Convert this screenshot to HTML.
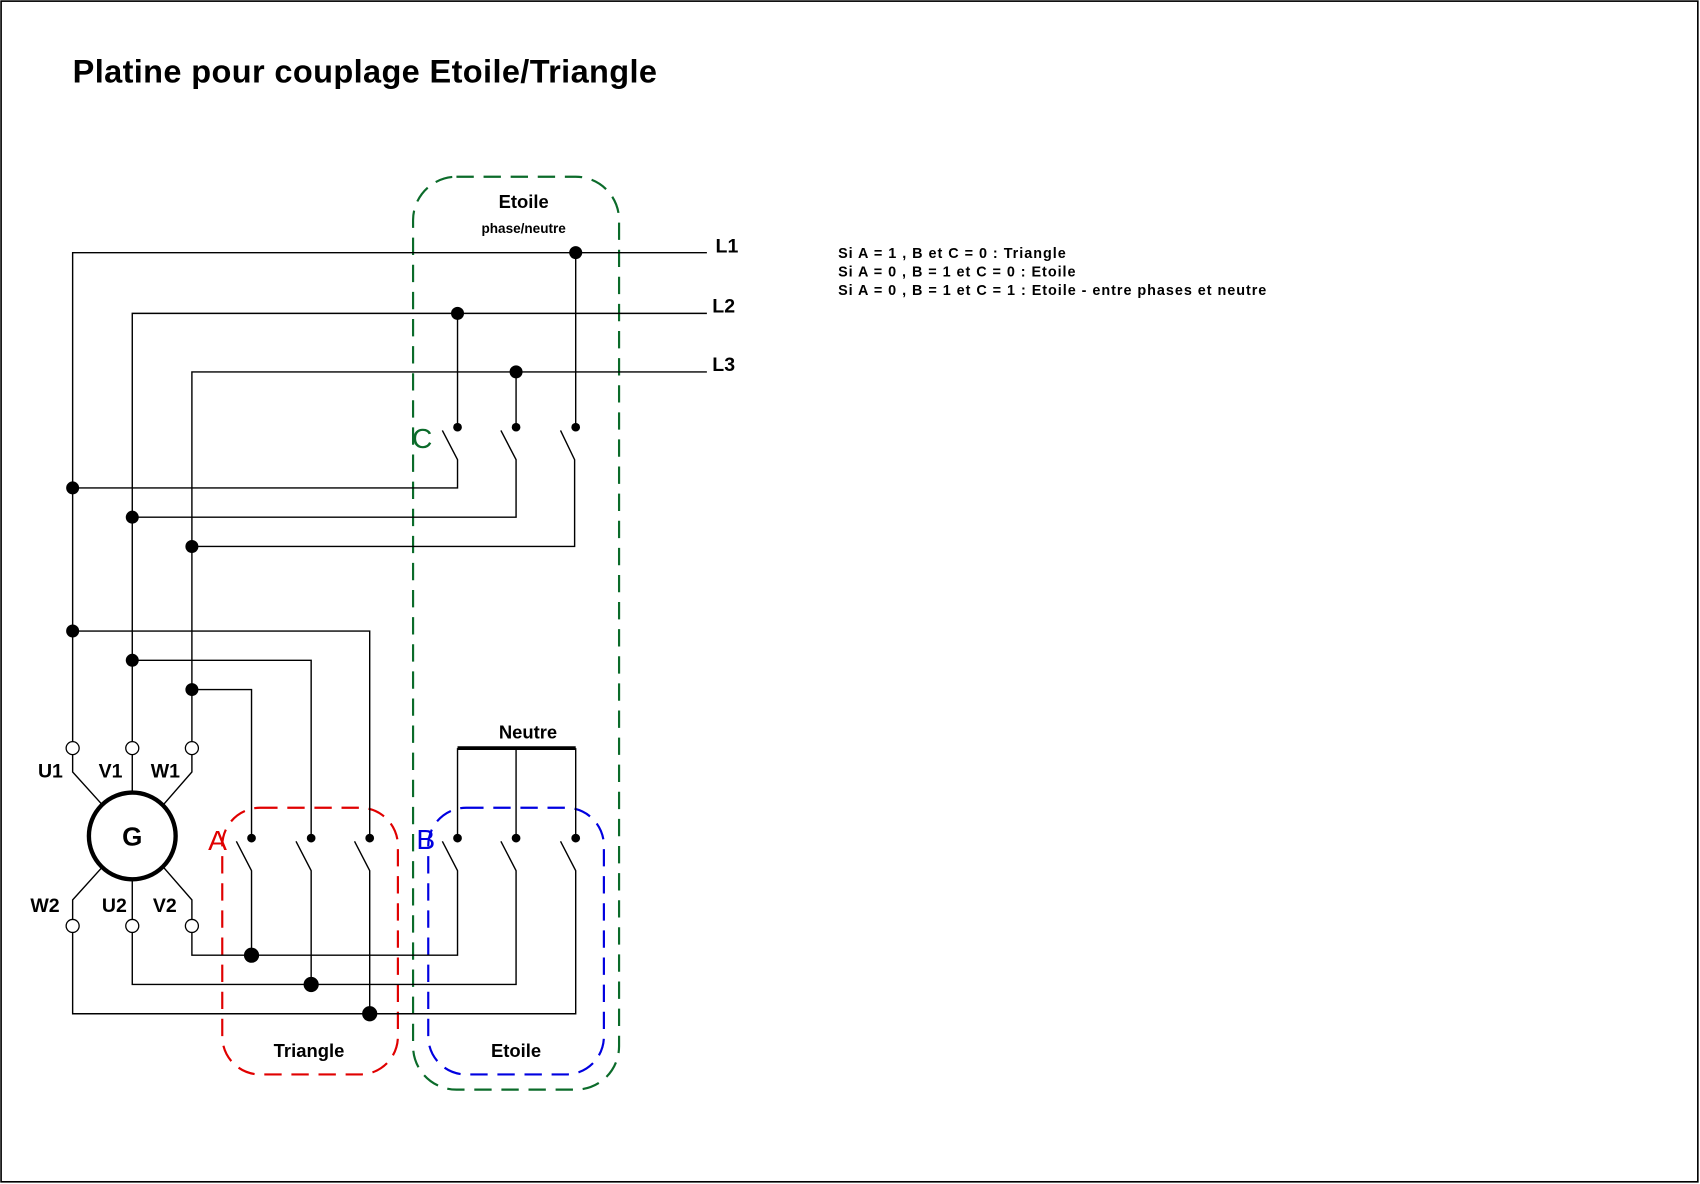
<!DOCTYPE html>
<html><head><meta charset="utf-8"><style>
html,body{margin:0;padding:0;background:#fff;}
svg{display:block;}
text{font-family:"Liberation Sans",Arial,sans-serif;}
</style></head><body>
<svg width="1700" height="1184" viewBox="0 0 1568 1092" xmlns="http://www.w3.org/2000/svg">
<rect x="1" y="1" width="1565" height="1089" fill="#fff" stroke="#000" stroke-width="1.5"/>
<text x="67" y="76" font-size="30" font-weight="bold" textLength="539">Platine pour couplage Etoile/Triangle</text>

<g fill="none" stroke-width="2" stroke-dasharray="16,9">
<rect x="381" y="163" width="190" height="842" rx="40" stroke="#0b6b2a"/>
<rect x="205" y="745" width="162" height="246" rx="35" stroke="#e00000"/>
<rect x="395" y="745" width="162" height="246" rx="35" stroke="#0000e0"/>
</g>

<g stroke="#000" stroke-width="1.3" fill="none">
<polyline points="67,690 67,233 652,233"/>
<polyline points="122,690 122,289 652,289"/>
<polyline points="177,690 177,343 652,343"/>
<line x1="422" y1="289" x2="422" y2="394"/>
<line x1="476" y1="343" x2="476" y2="394"/>
<line x1="531" y1="233" x2="531" y2="394"/>
<polyline points="408,397 422,424 422,450 67,450"/>
<polyline points="462,397 476,424 476,477 122,477"/>
<polyline points="517,397 530,424 530,504 177,504"/>
<polyline points="67,582 341,582 341,773"/>
<polyline points="122,609 287,609 287,773"/>
<polyline points="177,636 232,636 232,773"/>
<polyline points="218,776 232,803 232,881"/>
<polyline points="273,776 287,803 287,908"/>
<polyline points="327,776 341,803 341,935"/>
<line x1="422" y1="690" x2="422" y2="773"/>
<line x1="476" y1="690" x2="476" y2="773"/>
<line x1="531" y1="690" x2="531" y2="773"/>
<polyline points="408,776 422,803 422,881 177,881 177,860"/>
<polyline points="462,776 476,803 476,908 122,908 122,860"/>
<polyline points="517,776 531,803 531,935 67,935 67,860"/>
<polyline points="67,696 67,712 95,743"/>
<line x1="122" y1="696" x2="122" y2="731"/>
<polyline points="177,696 177,712 150,743"/>
<polyline points="67,848 67,830 95,799"/>
<line x1="122" y1="848" x2="122" y2="811"/>
<polyline points="177,848 177,830 150,799"/>
</g>
<line x1="422" y1="690" x2="531" y2="690" stroke="#000" stroke-width="3.5"/>
<circle cx="122" cy="771" r="40" fill="#fff" stroke="#000" stroke-width="4"/>
<text x="122" y="780" font-size="24" font-weight="bold" text-anchor="middle">G</text>

<g fill="#fff" stroke="#000" stroke-width="1.2">
<circle cx="67" cy="690" r="6"/><circle cx="122" cy="690" r="6"/><circle cx="177" cy="690" r="6"/>
<circle cx="67" cy="854" r="6"/><circle cx="122" cy="854" r="6"/><circle cx="177" cy="854" r="6"/>
</g>
<g fill="#000">
<circle cx="531" cy="233" r="6"/><circle cx="422" cy="289" r="6"/><circle cx="476" cy="343" r="6"/>
<circle cx="67" cy="450" r="6"/><circle cx="122" cy="477" r="6"/><circle cx="177" cy="504" r="6"/>
<circle cx="67" cy="582" r="6"/><circle cx="122" cy="609" r="6"/><circle cx="177" cy="636" r="6"/>
<circle cx="232" cy="881" r="7"/><circle cx="287" cy="908" r="7"/><circle cx="341" cy="935" r="7"/>
<circle cx="422" cy="394" r="4"/><circle cx="476" cy="394" r="4"/><circle cx="531" cy="394" r="4"/>
<circle cx="232" cy="773" r="4"/><circle cx="287" cy="773" r="4"/><circle cx="341" cy="773" r="4"/>
<circle cx="422" cy="773" r="4"/><circle cx="476" cy="773" r="4"/><circle cx="531" cy="773" r="4"/>
</g>

<g font-weight="bold" font-size="18">
<text x="660" y="233">L1</text>
<text x="657" y="288">L2</text>
<text x="657" y="342">L3</text>
<text x="35" y="717">U1</text>
<text x="91" y="717">V1</text>
<text x="139" y="717">W1</text>
<text x="28" y="841">W2</text>
<text x="94" y="841">U2</text>
<text x="141" y="841">V2</text>
<text x="285" y="975" font-size="17" text-anchor="middle">Triangle</text>
<text x="476" y="975" font-size="17" text-anchor="middle">Etoile</text>
<text x="487" y="681" font-size="17" text-anchor="middle">Neutre</text>
<text x="483" y="192" font-size="17" text-anchor="middle">Etoile</text>
<text x="483" y="215" font-size="12.5" text-anchor="middle">phase/neutre</text>
</g>
<text x="380" y="413" font-size="26" fill="#0b6b2a">C</text>
<text x="192" y="784" font-size="26" fill="#e00000">A</text>
<text x="384" y="783" font-size="26" fill="#0000e0">B</text>

<g font-size="13.3" font-weight="bold">
<text x="773" y="238" textLength="210">Si A = 1 , B et C = 0 : Triangle</text>
<text x="773" y="255" textLength="219">Si A = 0 , B = 1 et C = 0 : Etoile</text>
<text x="773" y="272" textLength="395">Si A = 0 , B = 1 et C = 1 : Etoile - entre phases et neutre</text>
</g>
</svg>
</body></html>
